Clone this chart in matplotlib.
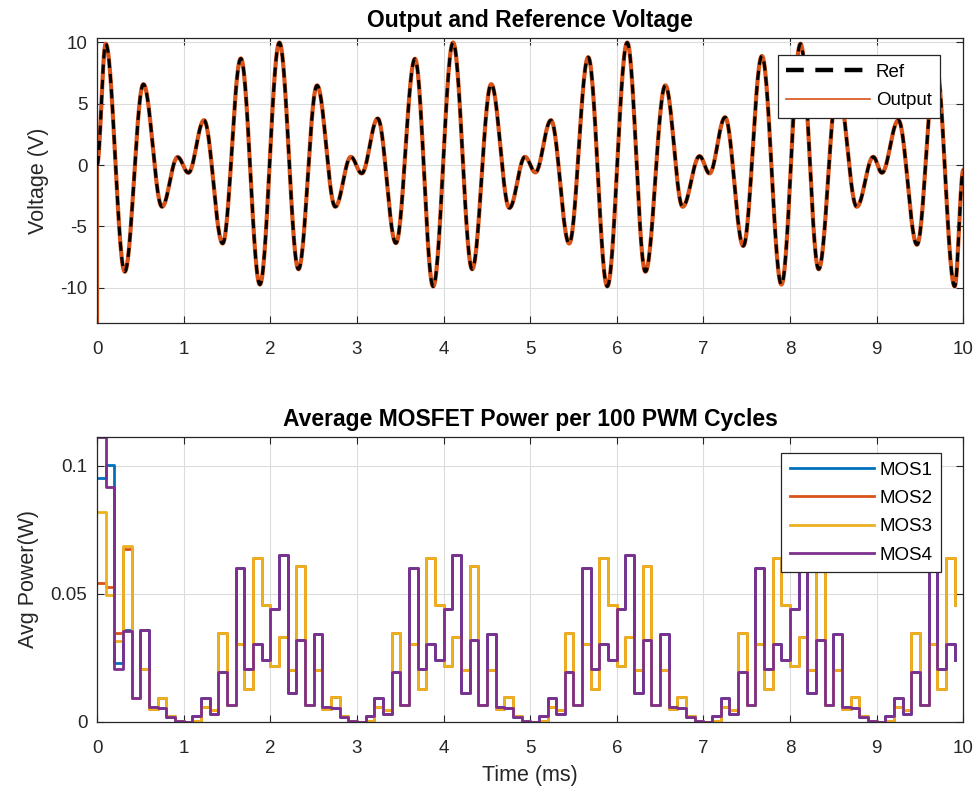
import numpy as np
import matplotlib.pyplot as plt
from matplotlib.lines import Line2D

plt.rcParams["font.family"] = ["Liberation Sans", "DejaVu Sans"]
plt.rcParams["axes.unicode_minus"] = False

# --- top panel: extrema of the reference waveform (time in ms, volts) ---
ext_t = [0.00, 0.10, 0.32, 0.535, 0.75, 0.93, 1.055, 1.235, 1.45, 1.66, 1.88,
         2.105, 2.325, 2.54, 2.75, 2.93, 3.055, 3.24, 3.45, 3.67, 3.88,
         4.11, 4.33, 4.55, 4.76, 4.94, 5.06, 5.24, 5.45, 5.67, 5.89,
         6.12, 6.33, 6.56, 6.76, 6.955, 7.07, 7.25, 7.46, 7.675, 7.90,
         8.12, 8.33, 8.55, 8.77, 8.96, 9.06, 9.25, 9.465, 9.68, 9.90, 10.0]
ext_v = [0.0, 9.9, -8.7, 6.6, -3.4, 0.65, -0.63, 3.66, -6.4, 8.7, -9.75,
         10.0, -8.5, 6.5, -3.4, 0.67, -0.68, 3.8, -6.37, 8.67, -9.9,
         10.0, -8.5, 6.6, -3.5, 0.67, -0.6, 3.66, -6.4, 8.8, -9.9,
         10.0, -8.7, 6.5, -3.4, 0.73, -0.68, 3.9, -6.6, 8.9, -9.75,
         9.9, -8.5, 6.5, -3.4, 0.67, -0.63, 3.66, -6.5, 8.5, -9.9, -0.4]
out_start = -12.9  # output transient at t = 0

# --- bottom panel: average MOSFET power per 100 PWM cycles (W), 0.1 ms bins ---
t_bins = [round(0.1 * i, 1) for i in range(100)]

mos4 = [0.1112, 0.0916, 0.0205, 0.0355, 0.0094, 0.0359, 0.0057, 0.0055, 0.0018, 0.0003,
        0.0000, 0.0022, 0.0094, 0.0031, 0.0196, 0.0065, 0.0600, 0.0207, 0.0305, 0.0243,
        0.0442, 0.0652, 0.0114, 0.0318, 0.0066, 0.0345, 0.0058, 0.0055, 0.0018, 0.0003,
        0.0000, 0.0022, 0.0094, 0.0031, 0.0196, 0.0065, 0.0600, 0.0207, 0.0305, 0.0243,
        0.0442, 0.0652, 0.0114, 0.0318, 0.0066, 0.0345, 0.0058, 0.0055, 0.0018, 0.0003,
        0.0000, 0.0022, 0.0094, 0.0031, 0.0196, 0.0065, 0.0600, 0.0207, 0.0305, 0.0243,
        0.0442, 0.0652, 0.0114, 0.0318, 0.0066, 0.0345, 0.0058, 0.0055, 0.0018, 0.0003,
        0.0000, 0.0022, 0.0094, 0.0031, 0.0196, 0.0065, 0.0600, 0.0207, 0.0305, 0.0243,
        0.0442, 0.0652, 0.0114, 0.0318, 0.0066, 0.0345, 0.0058, 0.0055, 0.0018, 0.0003,
        0.0000, 0.0022, 0.0094, 0.0031, 0.0196, 0.0065, 0.0600, 0.0207, 0.0305, 0.0243]
mos3 = [0.0819, 0.0496, 0.0316, 0.0688, 0.0094, 0.0207, 0.0050, 0.0094, 0.0025, 0.0005,
        0.0000, 0.0005, 0.0057, 0.0045, 0.0347, 0.0065, 0.0305, 0.0130, 0.0640, 0.0455,
        0.0220, 0.0330, 0.0203, 0.0608, 0.0066, 0.0203, 0.0050, 0.0096, 0.0025, 0.0005,
        0.0000, 0.0005, 0.0057, 0.0045, 0.0347, 0.0065, 0.0305, 0.0130, 0.0640, 0.0455,
        0.0220, 0.0330, 0.0203, 0.0608, 0.0066, 0.0203, 0.0050, 0.0096, 0.0025, 0.0005,
        0.0000, 0.0005, 0.0057, 0.0045, 0.0347, 0.0065, 0.0305, 0.0130, 0.0640, 0.0455,
        0.0220, 0.0330, 0.0203, 0.0608, 0.0066, 0.0203, 0.0050, 0.0096, 0.0025, 0.0005,
        0.0000, 0.0005, 0.0057, 0.0045, 0.0347, 0.0065, 0.0305, 0.0130, 0.0640, 0.0455,
        0.0220, 0.0330, 0.0203, 0.0608, 0.0066, 0.0203, 0.0050, 0.0096, 0.0025, 0.0005,
        0.0000, 0.0005, 0.0057, 0.0045, 0.0347, 0.0065, 0.0305, 0.0130, 0.0640, 0.0455]
# MOS1 / MOS2 only differ from MOS4 / MOS3 in the first few bins
mos1 = [0.0953, 0.1004, 0.0231, 0.0358] + mos4[4:]
mos2 = [0.0544, 0.0527, 0.0349, 0.0675] + mos3[4:]

C_BLUE, C_ORANGE, C_YELLOW, C_PURPLE = "#0072BD", "#D95319", "#EDB120", "#7E2F8E"
AX_COL = "#262626"


def smooth_through(tt, vv, n=30):
    # half-cosine segments between successive extrema
    ts, vs = [], []
    for i in range(len(tt) - 1):
        s = np.linspace(0, 1, n, endpoint=False)
        ts.append(tt[i] + (tt[i + 1] - tt[i]) * s)
        vs.append(vv[i] + (vv[i + 1] - vv[i]) * (1 - np.cos(np.pi * s)) / 2)
    ts.append([tt[-1]])
    vs.append([vv[-1]])
    return np.concatenate(ts), np.concatenate(vs)


def style_axes(ax):
    ax.grid(True, color="#dcdcdc", lw=0.8)
    ax.set_axisbelow(True)
    ax.tick_params(direction="in", top=True, right=True, length=5, width=0.8,
                   colors=AX_COL, labelsize=13.5)
    ax.tick_params(axis="x", pad=13)
    ax.tick_params(axis="y", pad=7)
    for sp in ax.spines.values():
        sp.set_color(AX_COL)
        sp.set_linewidth(0.9)


fig = plt.figure(figsize=(9.8, 8), dpi=100)
ax1 = fig.add_axes([0.099, 0.596, 0.884, 0.35625])
ax2 = fig.add_axes([0.099, 0.0975, 0.884, 0.35625])

# top: output and reference voltage
t_ref, v_ref = smooth_through(ext_t, ext_v)
t_out = np.concatenate([[0.0], t_ref])
v_out = np.concatenate([[out_start], v_ref])
ax1.plot(t_out, v_out, color=C_ORANGE, lw=3.0, zorder=2)
ax1.plot(t_ref, v_ref, color="black", lw=2.2, ls=(0, (3.0, 2.0)), zorder=3)
ax1.set_xlim(0, 10)
ax1.set_ylim(-12.9, 10.35)
ax1.set_xticks(range(0, 11))
ax1.set_yticks([-10, -5, 0, 5, 10])
ax1.set_ylabel("Voltage (V)", fontsize=15.5, color=AX_COL, labelpad=8)
ax1.set_title("Output and Reference Voltage", fontsize=16.5, fontweight="bold", pad=8)
style_axes(ax1)
handles = [Line2D([], [], color="black", lw=3.2, ls=(0, (4.0, 2.6))),
           Line2D([], [], color=C_ORANGE, lw=1.2)]
leg = ax1.legend(handles, ["Ref", "Output"], loc="upper right",
                 bbox_to_anchor=(0.9734, 0.94), borderaxespad=0, fontsize=13.5,
                 fancybox=False, framealpha=1, edgecolor=AX_COL, handlelength=4.5,
                 handletextpad=0.3, labelspacing=0.6, borderpad=0.45)
leg.get_frame().set_linewidth(0.9)

# bottom: average MOSFET power
for vals, col, lab in [(mos1, C_BLUE, "MOS1"), (mos2, C_ORANGE, "MOS2"),
                       (mos3, C_YELLOW, "MOS3"), (mos4, C_PURPLE, "MOS4")]:
    ax2.step(t_bins, vals, where="post", color=col, lw=2.0, label=lab)
ax2.set_xlim(0, 10)
ax2.set_ylim(0, max(mos4))
ax2.set_xticks(range(0, 11))
ax2.set_yticks([0, 0.05, 0.1])
ax2.set_yticklabels(["0", "0.05", "0.1"])
ax2.set_xlabel("Time (ms)", fontsize=15.5, color=AX_COL, labelpad=6)
ax2.set_ylabel("Avg Power(W)", fontsize=15.5, color=AX_COL, labelpad=8)
ax2.set_title("Average MOSFET Power per 100 PWM Cycles", fontsize=16.5,
              fontweight="bold", pad=8)
style_axes(ax2)
leg2 = ax2.legend(loc="upper right", bbox_to_anchor=(0.9746, 0.944), borderaxespad=0,
                  fontsize=13.5, fancybox=False, framealpha=1, edgecolor=AX_COL,
                  handlelength=4.5, handletextpad=0.3, labelspacing=0.6, borderpad=0.45)
leg2.get_frame().set_linewidth(0.9)

fig.savefig("out.png", dpi=100)
